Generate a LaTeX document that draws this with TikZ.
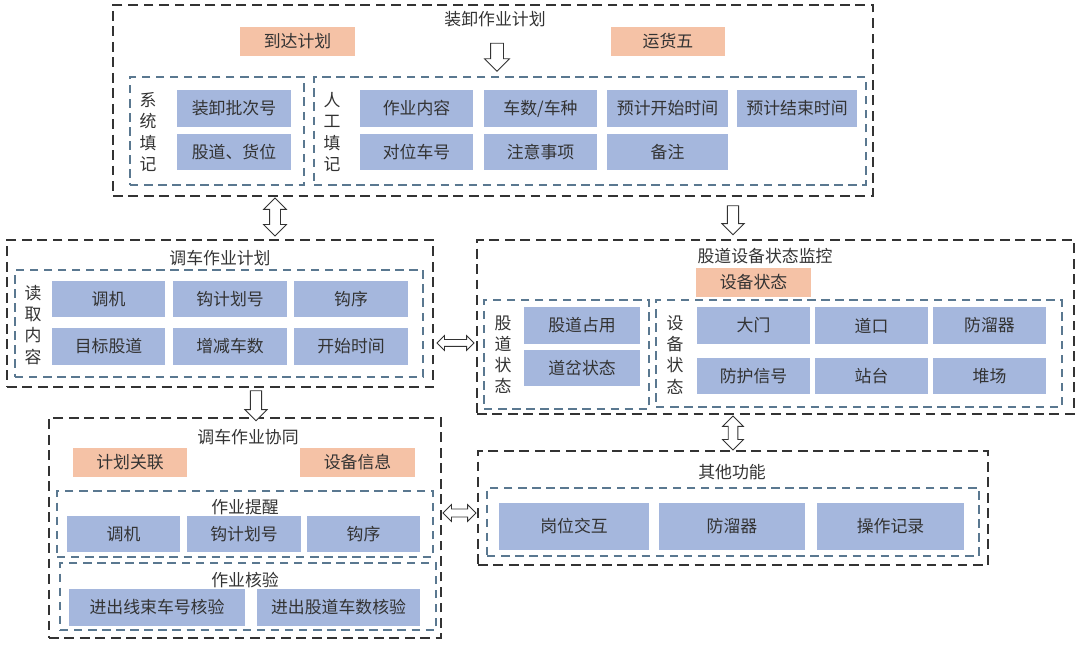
\documentclass[tikz,border=0pt]{standalone}
\usepackage{fontspec}
\setmainfont{Noto Sans CJK SC}
\usetikzlibrary{shapes.arrows,fit}

\definecolor{boxblue}{HTML}{A5B7DD}
\definecolor{boxorange}{HTML}{F5C2A6}
\definecolor{dashblue}{HTML}{5A7890}
\definecolor{linegray}{HTML}{333333}

\tikzset{
  outerbox/.style={draw=linegray, line width=0.9pt, dash pattern=on 7pt off 4pt, inner sep=0pt},
  innerbox/.style={draw=dashblue, line width=0.8pt, dash pattern=on 6pt off 4pt, inner sep=0pt},
  bluebox/.style={fill=boxblue, minimum width=2.825cm, minimum height=0.92cm, inner sep=0pt},
  orangebox/.style={fill=boxorange, minimum width=2.85cm, minimum height=0.725cm, inner sep=0pt},
  vtext/.style={align=center},
  downarrow/.style={single arrow, draw=linegray, fill=white, line width=0.6pt,
    inner xsep=0pt, inner ysep=0.15cm, single arrow head extend=0.15cm, rotate=-90},
  dblarrow/.style={double arrow, draw=linegray, fill=white, line width=0.6pt,
    inner xsep=0pt, inner ysep=0.125cm, double arrow head extend=0.15cm}
}

\begin{document}
\begin{tikzpicture}[x=0.025cm, y=-0.025cm, font=\fontsize{12}{15}\selectfont, text=linegray]
  \useasboundingbox (0,0) rectangle (1080,648);

  % 装卸作业计划
  \node[outerbox, fit={(113,5) (873,196)}] (zxjh) {};
  \node (zxjhtitle) at (495,19) {装卸作业计划};
  \node[orangebox] (ddjh) at (297.5,41.5) {到达计划};
  \node[orangebox] (yhw) at (668,41.5) {运货五};
  \node[downarrow, minimum height=0.7cm] (arrowzx) at (497,54) {};
  \node[innerbox, fit={(130,77) (304,185)}] (xttj) {};
  \node[vtext] (xttjlabel) at (148,132) {系\\统\\填\\记};
  \node[bluebox] (pch) at (234,108.5) {装卸批次号};
  \node[bluebox] (gdhw) at (234,152) {股道、货位};
  \node[innerbox, fit={(314,77) (866,185)}] (rgtj) {};
  \node[vtext] (rgtjlabel) at (332,132) {人\\工\\填\\记};
  \node[bluebox] (zynr) at (416.5,108.5) {作业内容};
  \node[bluebox] (cscz) at (540.5,108.5) {车数/车种};
  \node[bluebox, minimum width=3.025cm] (ksjs) at (667.5,108.5) {预计开始时间};
  \node[bluebox, minimum width=3cm] (jssj) at (797,108.5) {预计结束时间};
  \node[bluebox] (dwch) at (416.5,152) {对位车号};
  \node[bluebox] (zysx) at (540.5,152) {注意事项};
  \node[bluebox, minimum width=3.025cm] (bz) at (667.5,152) {备注};

  % 调车作业计划
  \node[outerbox, fit={(7,240) (433,387)}] (dcjh) {};
  \node (dcjhtitle) at (220,258) {调车作业计划};
  \node[innerbox, fit={(15,270) (423,377)}] (dqnr) {};
  \node[vtext] (dqnrlabel) at (33,325) {读\\取\\内\\容};
  \node[bluebox] (dj) at (108.5,299) {调机};
  \node[bluebox] (gjhh) at (230,299) {钩计划号};
  \node[bluebox] (gx) at (351,299) {钩序};
  \node[bluebox] (mbgd) at (108.5,346.5) {目标股道};
  \node[bluebox] (zjcs) at (230,346.5) {增减车数};
  \node[bluebox] (kssj) at (351,346.5) {开始时间};

  % 股道设备状态监控
  \node[outerbox, fit={(477,240) (1074,414)}] (gdjk) {};
  \node (gdjktitle) at (765,256) {股道设备状态监控};
  \node[orangebox] (sbzt) at (753.5,282.5) {设备状态};
  \node[innerbox, fit={(484,300) (649,409)}] (gdzt) {};
  \node[vtext] (gdztlabel) at (503,355) {股\\道\\状\\态};
  \node[bluebox, minimum width=2.9cm] (gdzy) at (582,325.5) {股道占用};
  \node[bluebox, minimum width=2.9cm] (dczt) at (582,368) {道岔状态};
  \node[innerbox, fit={(656,300) (1062,407)}] (sbzt2) {};
  \node[vtext] (sbztlabel) at (675,355) {设\\备\\状\\态};
  \node[bluebox] (dm) at (753.5,325.5) {大门};
  \node[bluebox] (dk) at (871.5,325.5) {道口};
  \node[bluebox] (flq) at (989.5,325.5) {防溜器};
  \node[bluebox] (fhxh) at (753.5,376) {防护信号};
  \node[bluebox] (zt) at (871.5,376) {站台};
  \node[bluebox] (dc) at (989.5,376) {堆场};

  % 调车作业协同
  \node[outerbox, fit={(49,418) (441,638)}] (dcxt) {};
  \node (dcxttitle) at (248,437) {调车作业协同};
  \node[orangebox] (jhgl) at (130,462.5) {计划关联};
  \node[orangebox] (sbxx) at (357.5,462.5) {设备信息};
  \node[innerbox, fit={(57,491) (433,557)}] (zytx) {};
  \node (zytxtitle) at (245,507) {作业提醒};
  \node[bluebox] (dj2) at (123.5,534) {调机};
  \node[bluebox] (gjhh2) at (244,534) {钩计划号};
  \node[bluebox] (gx2) at (363.5,534) {钩序};
  \node[innerbox, fit={(60,563) (436,630)}] (zyhy) {};
  \node (zyhytitle) at (245,580) {作业核验};
  \node[bluebox, minimum width=4.4cm] (xshy) at (157,607.5) {进出线束车号核验};
  \node[bluebox, minimum width=4.075cm] (gdhy) at (338.5,607.5) {进出股道车数核验};

  % 其他功能
  \node[outerbox, fit={(478,451) (988,565)}] (qtgn) {};
  \node (qtgntitle) at (732,472) {其他功能};
  \node[innerbox, fit={(487,488) (979,556)}] (qtnr) {};
  \node[bluebox, minimum width=3.75cm, minimum height=1.175cm] (gwjh) at (574,526.5) {岗位交互};
  \node[bluebox, minimum width=3.65cm, minimum height=1.175cm] (flq2) at (732,526.5) {防溜器};
  \node[bluebox, minimum width=3.675cm, minimum height=1.175cm] (czjl) at (890.5,526.5) {操作记录};

  % 箭头
  \node[dblarrow, rotate=90, minimum height=0.95cm] (a1) at (275,217) {};
  \node[downarrow, minimum height=0.725cm, inner ysep=0.13cm, single arrow head extend=0.14cm] (a2) at (733,217.5) {};
  \node[downarrow, minimum height=0.75cm, inner ysep=0.13cm, single arrow head extend=0.14cm] (a3) at (256,403) {};
  \node[dblarrow, minimum height=0.925cm, inner ysep=0.075cm, double arrow head extend=0.1cm] (a4) at (455.5,343) {};
  \node[dblarrow, rotate=90, minimum height=0.85cm, inner ysep=0.11cm, double arrow head extend=0.14cm] (a5) at (733,433) {};
  \node[dblarrow, minimum height=0.825cm, inner ysep=0.09cm, double arrow head extend=0.11cm] (a6) at (459.5,513) {};
\end{tikzpicture}
\end{document}
